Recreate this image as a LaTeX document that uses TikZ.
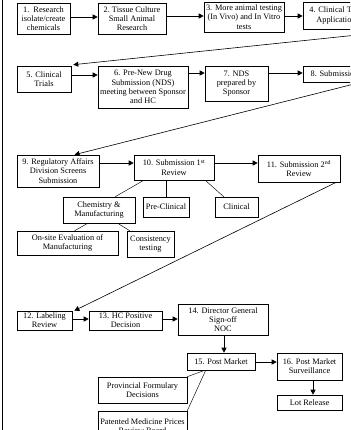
\documentclass[tikz,border=0pt]{standalone}
\usepackage{fontspec}
\setmainfont{Liberation Serif}
\usetikzlibrary{arrows.meta,calc}
\pgfdeclarelayer{back}
\pgfdeclarelayer{edges}
\pgfsetlayers{back,edges,main}
\newcommand\bx[6]{\node[box,minimum width={#4-#2},minimum height={#5-#3}] (#1) at ({(#2+#4)/2},{(#3+#5)/2}) {#6};}
\begin{document}
\begin{tikzpicture}[x=1pt,y=-1pt,
  box/.style={draw, fill=white, line width=0.6pt, inner sep=0.5pt, align=center, font=\fontsize{8.3}{9.2}\selectfont},
  arr/.style={-{Triangle[length=5pt,width=5pt]}, line width=0.6pt},
  ln/.style={line width=0.45pt}]
\useasboundingbox (0,0) rectangle (350,430);
\clip (0,0) rectangle (350,430);
\begin{pgfonlayer}{back}
\fill[white] (0,0) rectangle (350,430);
\end{pgfonlayer}
\coordinate (bt) at (2,0);
\coordinate (bb) at (2,430);
\draw[line width=0.6pt] (bt) -- (bb);
% nodes
\bx{b1}{17}{3}{70}{34}{1.\ \ Research\\isolate/create\\chemicals}
\bx{b2}{98}{3}{166}{34}{2.\ Tissue Culture\\Small Animal\\Research}
\bx{b3}{204}{2}{284}{32}{3. More animal testing\\(In Vivo) and In Vitro\\tests}
\bx{b4}{303}{2}{369}{29}{4. Clinical Trial\\Application}
\bx{b5}{17}{66}{71}{92}{5. Clinical\\Trials}
\bx{b6}{98}{66}{188}{108}{6. Pre-New Drug\\Submission (NDS)\\meeting between Sponsor\\and HC}
\bx{b7}{205}{66}{268}{101}{7. NDS\\prepared by\\Sponsor}
\bx{b8}{303}{66}{366}{82}{8. Submission}
\bx{b9}{17}{155}{99}{187}{9. Regulatory Affairs\\Division Screens\\Submission}
\bx{b10}{134}{155}{214}{180}{10. Submission 1\textsuperscript{st}\\Review}
\bx{b11}{258}{155}{340}{182}{11. Submission 2\textsuperscript{nd}\\Review}
\bx{chem}{63}{197}{135}{223}{Chemistry \&\\Manufacturing}
\bx{pre}{143}{197}{189}{217}{Pre-Clinical}
\bx{cli}{215}{197}{258}{217}{Clinical}
\bx{ons}{17}{231}{118}{255}{On-site Evaluation of\\Manufacturing}
\bx{con}{127}{231}{174}{257}{Consistency\\testing}
\bx{b12}{17}{311}{72}{330}{12. Labeling\\Review}
\bx{b13}{89}{311}{162}{330}{13. HC Positive\\Decision}
\bx{b14}{178}{304}{268}{335}{14. Director General\\Sign-off\\NOC}
\bx{b15}{187}{353}{255}{370}{15. Post Market}
\bx{b16}{277}{353}{342}{380}{16. Post Market\\Surveillance}
\bx{lot}{277}{395}{342}{410}{Lot Release}
\bx{prov}{98}{377}{187}{403}{Provincial Formulary\\Decisions}
\bx{pat}{98}{411}{187}{442}{Patented Medicine Prices\\Review Board}
\coordinate (s4) at (405,30);
\coordinate (s8) at (362,82);
% connectors
\begin{pgfonlayer}{edges}
\draw[arr] (b1.east |- 0,17) -- (b2.west |- 0,17);
\draw[arr] (b2.east |- 0,16) -- (b3.west |- 0,16);
\draw[arr] (b3.east |- 0,16) -- (b4.west |- 0,16);
\draw[arr] (s4) -- ($(b5.north east)+(2,-1)$);
\draw[arr] (b5.east |- 0,75) -- (b6.west |- 0,75);
\draw[arr] (b6.east |- 0,73) -- (b7.west |- 0,73);
\draw[arr] (b7.east |- 0,73) -- (b8.west |- 0,73);
\draw[arr] (s8) -- ($(b9.north west)!0.7!(b9.north east)$);
\draw[arr] (b9.east |- 0,163) -- (b10.west |- 0,163);
\draw[arr] (b10.east |- 0,163) -- (b11.west |- 0,163);
\draw[ln] ($(b10.south west)+(10,0)$) -- ($(chem.north east)+(-20,0)$);
\draw[ln] (b10.south -| pre.north) -- (pre.north);
\draw[ln] ($(b10.south east)+(-9,0)$) -- ($(cli.north west)+(9,0)$);
\draw[ln] ($(chem.south west)+(25,0)$) -- ($(ons.north west)+(58,0)$);
\draw[ln] ($(chem.south west)+(55,0)$) -- ($(con.north west)+(3,0)$);
\draw[arr] ($(b11.south east)+(-2,-1)$) -- ($(b12.north east)+(2,0)$);
\draw[arr] (b12.east |- 0,319) -- (b13.west |- 0,319);
\draw[arr] (b13.east |- 0,319) -- (b14.west |- 0,319);
\draw[arr] (b14.south -| 224,0) -- (b15.north -| 224,0);
\draw[arr] (b15.east |- 0,362) -- (b16.west |- 0,362);
\draw[arr] (b16.south -| 313,0) -- (lot.north -| 313,0);
\draw[ln] ($(b15.south west)+(18,0)$) -- (prov.north east);
\draw[ln] ($(b15.south west)+(19,0)$) -- (pat.north east);
\end{pgfonlayer}
\end{tikzpicture}
\end{document}
